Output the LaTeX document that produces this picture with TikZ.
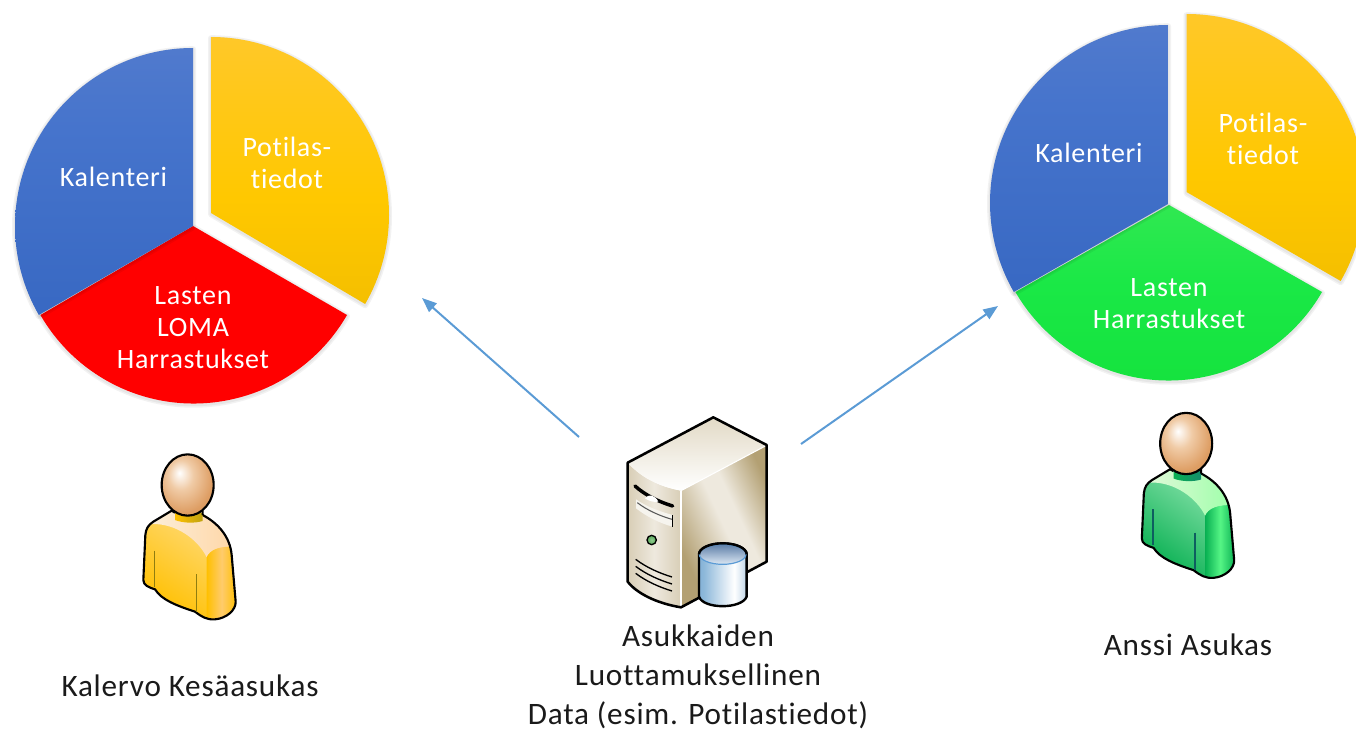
\documentclass[tikz,border=0pt]{standalone}
\usepackage{fontspec}
\setmainfont[LetterSpace=2.5,Ligatures=NoCommon]{Carlito}
\usetikzlibrary{arrows.meta}
\definecolor{arrowblue}{HTML}{5B9BD5}
\definecolor{capt}{HTML}{1A1A1A}
\definecolor{hA}{HTML}{FFFFFF}
\definecolor{hB}{HTML}{F0CBA6}
\definecolor{hC}{HTML}{DE9E64}
\definecolor{hD}{HTML}{CC8648}
\definecolor{hE}{HTML}{B87434}
\definecolor{srvA}{HTML}{C2B28E}
\definecolor{srvB}{HTML}{EEE9DE}
\definecolor{srvC}{HTML}{B3A073}
\definecolor{srvD}{HTML}{E2DAC6}
\definecolor{cylA}{HTML}{5A93C4}
\definecolor{cylAb}{HTML}{8DB8DA}
\definecolor{cylB}{HTML}{FFFFFF}
\definecolor{cylBb}{HTML}{8FB6D6}
\definecolor{cylC}{HTML}{5C90BC}
\definecolor{cylTop}{HTML}{5E7FA8}
\definecolor{cylTopB}{HTML}{DCE8F4}
\definecolor{bluA}{HTML}{6284CE}\definecolor{bluB}{HTML}{4674CC}\definecolor{bluC}{HTML}{3A6AC4}\definecolor{bluD}{HTML}{3060BD}
\definecolor{ylwA}{HTML}{FFC84A}\definecolor{ylwB}{HTML}{FFC800}\definecolor{ylwC}{HTML}{E8B400}
\definecolor{grA}{HTML}{4CE860}\definecolor{grB}{HTML}{1AE846}\definecolor{grC}{HTML}{0FDC34}
\definecolor{redfill}{HTML}{FF0000}
\pgfdeclareverticalshading{blueshade}{100bp}{color(0bp)=(bluD);color(30bp)=(bluC);color(60bp)=(bluB);color(100bp)=(bluA)}
\pgfdeclareverticalshading{yellowshade}{100bp}{color(0bp)=(ylwC);color(45bp)=(ylwB);color(100bp)=(ylwA)}
\pgfdeclareverticalshading{greenshade}{100bp}{color(0bp)=(grC);color(55bp)=(grB);color(100bp)=(grA)}
\pgfdeclareradialshading{headshade}{\pgfpoint{-8bp}{10bp}}{color(0bp)=(hA);color(12bp)=(hB);color(28bp)=(hC);color(50bp)=(hD);color(65bp)=(hE)}
\pgfdeclarehorizontalshading{srvright}{100bp}{color(0bp)=(srvC);color(28bp)=(srvC);color(50bp)=(srvB);color(58bp)=(srvB);color(76bp)=(srvC);color(100bp)=(srvC)}
\pgfdeclarehorizontalshading{srvfront}{100bp}{color(0bp)=(srvA);color(50bp)=(srvB);color(100bp)=(srvA)}
\pgfdeclarehorizontalshading{cylshade}{100bp}{color(0bp)=(cylA);color(30bp)=(cylAb);color(62bp)=(cylB);color(85bp)=(cylBb);color(100bp)=(cylC)}
\newcommand{\softshadow}[1]{%
\foreach \ww in {6,3}
  \draw[black,opacity=.05,line width=\ww*.75pt,line join=round,yshift=-.9pt] #1;}
\newcommand{\bodyoutline}{(155,212) -- (100,245) .. controls (85,255) and (78,265) .. (76,285) -- (70,420) .. controls (70,435) and (85,442) .. (105,448) .. controls (125,480) and (170,497) .. (225,515) .. controls (245,530) and (260,540) .. (285,538) .. controls (320,535) and (348,510) .. (347,485) -- (335,345) .. controls (330,290) and (295,250) .. (248,225) -- cycle}
\newcommand{\personfig}[3]{%
\begin{scope}[shift={(#1,#2)},x=.25pt,y=-.25pt]
\shade[left color=#3A,middle color=#3B,right color=#3B,shading angle=-35] \bodyoutline;
\begin{scope}
\clip \bodyoutline;
\shade[left color=#3C,right color=#3D] (60,200) -- (60,250) -- (95,252) .. controls (170,250) and (235,300) .. (260,352) .. controls (270,330) and (295,318) .. (350,320) -- (350,200) -- cycle;
\shade[left color=#3B,right color=#3B,middle color=#3E] (260,352) .. controls (270,330) and (295,318) .. (350,320) -- (350,545) -- (260,545) -- cycle;
\end{scope}
\draw[line width=1.6pt,line join=round] \bodyoutline;
\draw[line width=1.2pt,#3F] (104,332) -- (104,440);
\draw[line width=1.2pt,#3F] (229,402) -- (229,515);
\shade[left color=#3B,right color=#3G] (165,218) -- (165,240) .. controls (190,250) and (225,250) .. (248,243) -- (248,218) -- cycle;
\draw[line width=1.6pt] (155,212) -- (165,218) (248,225) -- (248,212);
\shade[shading=headshade,draw=black,line width=1.6pt] (203,135) ellipse [x radius=78,y radius=92];
\end{scope}}
\definecolor{yelA}{HTML}{FFDC80}\definecolor{yelB}{HTML}{FFC000}\definecolor{yelC}{HTML}{FBF1DF}\definecolor{yelD}{HTML}{FFD6A6}\definecolor{yelE}{HTML}{FFCB6C}\definecolor{yelF}{HTML}{8F7D10}\definecolor{yelG}{HTML}{BFA312}
\definecolor{grnA}{HTML}{90E5B0}\definecolor{grnB}{HTML}{08B052}\definecolor{grnC}{HTML}{E8F8DE}\definecolor{grnD}{HTML}{9CFFA8}\definecolor{grnE}{HTML}{55F585}\definecolor{grnF}{HTML}{0E5E60}\definecolor{grnG}{HTML}{148C6C}
\tikzset{
 pielabel/.style={text=white,align=center,font=\fontsize{21}{24}\selectfont,inner sep=0pt},
 caption/.style={text=capt,align=center,font=\fontsize{23.4}{29.4}\selectfont,inner sep=0pt},
 linkarrow/.style={draw=arrowblue,line width=1.5pt,-{Triangle[length=11pt,width=8.5pt]}},
}
\newcommand{\bluewedgeA}{(193,226) -- (193,48) arc [start angle=270,end angle=150,radius=178] -- cycle}
\newcommand{\yellowwedgeA}{(211,213) -- (211,37) arc [start angle=-90,end angle=30,radius=178] -- cycle}
\newcommand{\redwedgeA}{(193,226) -- (347,315) arc [start angle=30,end angle=150,radius=177] -- cycle}
\newcommand{\bluewedgeB}{(1168,204) -- (1168,25) arc [start angle=270,end angle=150,radius=178] -- cycle}
\newcommand{\yellowwedgeB}{(1186.5,192) -- (1186.5,14) arc [start angle=-90,end angle=30,radius=178] -- cycle}
\newcommand{\greenwedgeB}{(1169,205) -- (1322,292) arc [start angle=30,end angle=150,radius=177] -- cycle}
\begin{document}
\begin{tikzpicture}[x=.75pt,y=-.75pt]
\useasboundingbox (0,0) rectangle (1356,731);
\clip (0,0) rectangle (1356,731);
% left pie
\softshadow{\redwedgeA}
\fill[redfill] \redwedgeA;
\softshadow{\bluewedgeA}
\shade[shading=blueshade] \bluewedgeA;
\softshadow{\yellowwedgeA}
\shade[shading=yellowshade] \yellowwedgeA;
% right pie
\softshadow{\greenwedgeB}
\shade[shading=greenshade] \greenwedgeB;
\softshadow{\bluewedgeB}
\shade[shading=blueshade] \bluewedgeB;
\softshadow{\yellowwedgeB}
\shade[shading=yellowshade] \yellowwedgeB;
% labels
\node[pielabel] (kal1) at (113.5,177) {Kalenteri};
\node[pielabel] (pot1) at (287,162.5) {Potilas-\\tiedot};
\node[pielabel] (las1) at (193,327.5) {Lasten\\LOMA\\Harrastukset};
\node[pielabel] (kal2) at (1089,153) {Kalenteri};
\node[pielabel] (pot2) at (1263,138.5) {Potilas-\\tiedot};
\node[pielabel] (las2) at (1169,303.5) {Lasten\\Harrastukset};
% people
\personfig{120}{440}{yel}
\personfig{1118.5}{398.5}{grn}
\node[caption] (kalervo) at (190,686) {Kalervo Kesäasukas};
\node[caption] (anssi) at (1188,645) {Anssi Asukas};
% server
\begin{scope}[shift={(600,400)},x=.25pt,y=-.25pt]
\shade[shading=srvright,shading angle=25] (243,272) -- (500,135) -- (500,485) -- (243,622) -- cycle;
\shade[shading=srvfront] (83,188) .. controls (130,240) and (190,262) .. (243,272) -- (243,622) .. controls (170,610) and (110,580) .. (83,545) -- cycle;
\shade[top color=srvD,bottom color=white] (83,188) -- (340,52) -- (500,135) -- (243,272) .. controls (190,262) and (130,240) .. (83,188) -- cycle;
\draw[white,line width=.8pt] (243,272) -- (243,622);
\draw[white,line width=.8pt] (243,272) -- (498,137);
\draw[line width=1.9pt,line join=round] (83,188) -- (340,52) -- (500,135) -- (500,485) -- (243,622) .. controls (170,610) and (110,580) .. (83,545) -- cycle;
\draw[line width=2.6pt,line cap=round] (105,258) .. controls (135,285) and (175,305) .. (218,318);
\fill[white] (135,295) .. controls (145,280) and (165,285) .. (175,305) .. controls (160,308) and (145,302) .. (135,295) -- cycle;
\fill[white!85!srvA] (108,298) -- (108,325) .. controls (140,350) and (180,370) .. (218,380) -- (218,345) .. controls (180,335) and (140,320) .. (108,298) -- cycle;
\draw[line width=.8pt,gray!70!black] (112,308) .. controls (140,330) and (180,348) .. (216,358);
\draw[line width=1.1pt] (218,345) -- (218,380);
\shade[inner color=white!60!green!60!gray,outer color=green!30!gray,draw=black,line width=1pt] (155,420) circle [radius=14];
\foreach \yy in {478,499,520}
  \draw[line width=1pt] (107,\yy) .. controls (140,\yy+25) and (180,\yy+42) .. (216,\yy+53);
\shade[shading=cylshade,draw=black,line width=1.8pt] (297,463) -- (297,590) .. controls (310,628) and (425,628) .. (440,590) -- (440,463) arc [start angle=0,end angle=-180,x radius=71.5,y radius=33] -- cycle;
\shade[top color=cylTop,bottom color=cylTopB,draw=arrowblue,line width=.9pt] (368,463) ellipse [x radius=70,y radius=30];
\draw[line width=1.8pt] (297,463) arc [start angle=180,end angle=360,x radius=71.5,y radius=33];
\end{scope}
\node[caption] (data) at (698,677) {Asukkaiden\\Luottamuksellinen\\Data (esim. Potilastiedot)};
% connectors
\coordinate (a1s) at (579,437);
\coordinate (a1e) at (422,298);
\coordinate (a2s) at (801,444);
\coordinate (a2e) at (998,306);
\draw[linkarrow] (a1s) -- (a1e);
\draw[linkarrow] (a2s) -- (a2e);
\end{tikzpicture}
\end{document}
